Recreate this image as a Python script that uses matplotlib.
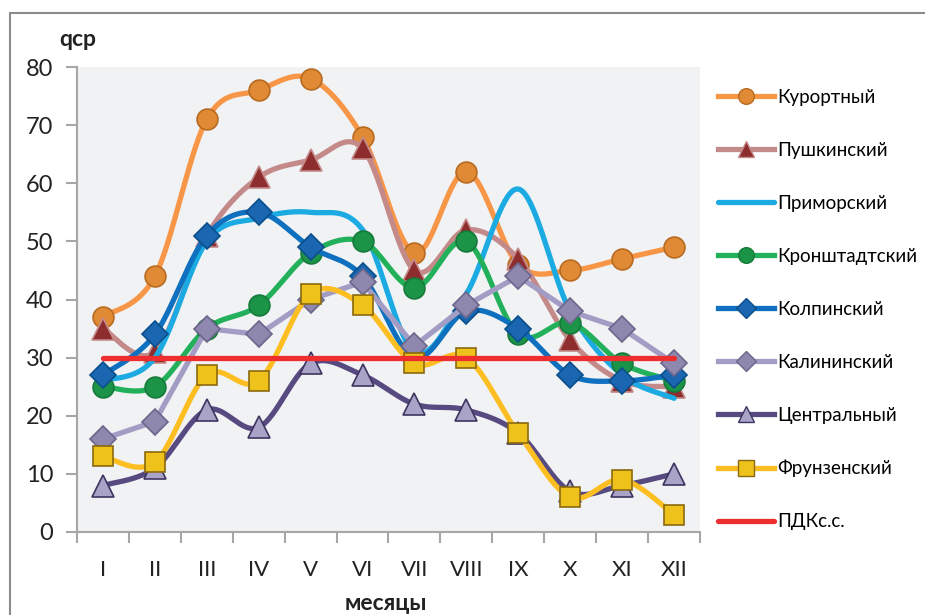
import numpy as np
import matplotlib
matplotlib.use("Agg")
import matplotlib.pyplot as plt
from matplotlib.lines import Line2D
from matplotlib.patches import Rectangle

plt.rcParams['font.family'] = ['Lato', 'DejaVu Sans']

months = ["I", "II", "III", "IV", "V", "VI", "VII", "VIII", "IX", "X", "XI", "XII"]

kurortny = [37, 44, 71, 76, 78, 68, 48, 62, 46, 45, 47, 49]
pushkinsky = [35, 31, 51, 61, 64, 66, 45, 52, 47, 33, 26, 25]
primorsky = [26, 30, 50, 54, 55, 52, 31, 41, 59, 38, 27, 23]
kronshtadt = [25, 25, 35, 39, 48, 50, 42, 50, 34, 36, 29, 26]
kolpinsky = [27, 34, 51, 55, 49, 44, 30, 38, 35, 27, 26, 27]
kalininsky = [16, 19, 35, 34, 40, 43, 32, 39, 44, 38, 35, 29]
centralny = [8, 11, 21, 18, 29, 27, 22, 21, 17, 7, 8, 10]
frunzensky = [13, 12, 27, 26, 41, 39, 29, 30, 17, 6, 9, 3]
pdk = [30] * 12

series = [
    ("Курортный", kurortny, "#F79646", "o", "#E08A35", "#B86A20", True),
    ("Пушкинский", pushkinsky, "#C48A8A", "^", "#8E2D2D", "#C48A8A", True),
    ("Приморский", primorsky, "#1BAAE2", None, None, None, True),
    ("Кронштадтский", kronshtadt, "#22B05A", "o", "#1C9448", "#167A3A", True),
    ("Колпинский", kolpinsky, "#0E70BE", "D", "#1A66B0", "#0B4F8A", True),
    ("Калининский", kalininsky, "#A39CC4", "D", "#8E88AE", "#6C668C", False),
    ("Центральный", centralny, "#574A80", "^", "#A9A3C8", "#3E3460", True),
    ("Фрунзенский", frunzensky, "#FDBE22", "s", "#EEC21A", "#8A6A10", True),
    ("ПДКс.с.", pdk, "#EE2E2E", None, None, None, False),
]


def smooth(y, n=40):
    y = np.asarray(y, float)
    x = np.arange(len(y), dtype=float)
    xs, ys = [], []
    for i in range(len(y) - 1):
        p0 = np.array([x[max(i - 1, 0)], y[max(i - 1, 0)]])
        p1 = np.array([x[i], y[i]])
        p2 = np.array([x[i + 1], y[i + 1]])
        p3 = np.array([x[min(i + 2, len(y) - 1)], y[min(i + 2, len(y) - 1)]])
        c1 = p1 + (p2 - p0) / 6.0
        c2 = p2 - (p3 - p1) / 6.0
        t = np.linspace(0, 1, n)[:, None]
        pts = ((1 - t) ** 3) * p1 + 3 * ((1 - t) ** 2) * t * c1 + 3 * (1 - t) * t ** 2 * c2 + t ** 3 * p2
        xs.extend(pts[:, 0])
        ys.extend(pts[:, 1])
    return np.array(xs), np.array(ys)


fig = plt.figure(figsize=(9.25, 6.15), dpi=100)
fig.patches.append(Rectangle((10 / 925, -0.05), 1.0, 1 - 13 / 615 + 0.05, transform=fig.transFigure,
                             fill=False, edgecolor="#8C8C8C", linewidth=1.5))

ax = fig.add_axes([77 / 925, 1 - 532 / 615, (700 - 77) / 925, (532 - 67) / 615])
ax.set_facecolor("#F1F2F4")

x = np.arange(len(months))
handles = []
for k, (name, vals, lc, mk, mfc, mec, sm) in enumerate(series):
    z = 3 + k
    if sm:
        xs, ys = smooth(vals)
    else:
        xs, ys = x, np.asarray(vals, float)
    ax.plot(xs, ys, color=lc, lw=3.8, solid_capstyle="round", zorder=z)
    if mk is not None:
        ms = 15 if mk in ("o", "s") else (13 if mk == "D" else 16)
        ax.plot(x, vals, linestyle="none", marker=mk, markersize=ms, markerfacecolor=mfc,
                markeredgecolor=mec, markeredgewidth=1.2, zorder=z + 0.5)
        handles.append(Line2D([], [], color=lc, lw=3.8, marker=mk, markersize=ms * 0.75,
                              markerfacecolor=mfc, markeredgecolor=mec, markeredgewidth=1.0))
    else:
        handles.append(Line2D([], [], color=lc, lw=3.8, solid_capstyle="round"))

ax.set_xlim(-0.5, len(months) - 0.5)
ax.set_ylim(0, 80)
ax.set_yticks(np.arange(0, 81, 10))
ax.set_xticks(x)
ax.set_xticklabels(months)
ax.set_xticks(np.arange(-0.5, len(months), 1.0), minor=True)
ax.tick_params(axis="x", which="major", length=0, labelsize=16, pad=20, colors="#222222")
ax.tick_params(axis="x", which="minor", length=8, width=1.5, color="#A6A6A6")
ax.tick_params(axis="y", length=8, width=1.5, color="#A6A6A6", labelsize=17, pad=9, labelcolor="#222222")
for s in ["top", "right"]:
    ax.spines[s].set_visible(False)
for s in ["left", "bottom"]:
    ax.spines[s].set_color("#A6A6A6")
    ax.spines[s].set_linewidth(1.5)

fig.text(59 / 925, 1 - 40 / 615, "qcp", fontsize=16.5, fontweight="bold", color="#222222", va="center", ha="left")
fig.text(386 / 925, 1 - 604 / 615, "месяцы", fontsize=16.5, fontweight="bold", color="#222222", va="center", ha="center")

fig.legend(handles, [s[0] for s in series], loc="upper left",
           bbox_to_anchor=(718 / 925, 1 - 89 / 615), frameon=False, fontsize=13.5,
           handlelength=3.0, handletextpad=0.15, labelspacing=1.92, borderaxespad=0, borderpad=0)

fig.savefig("out.png", dpi=100)
